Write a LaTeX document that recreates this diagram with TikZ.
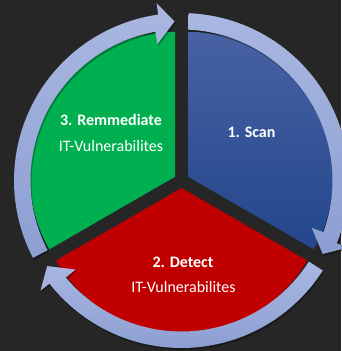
\documentclass[tikz,border=0pt]{standalone}
\usepackage{fontspec}
\setmainfont{Carlito}
\definecolor{bg}{HTML}{262626}
\definecolor{ringtop}{HTML}{A9B7E1}
\definecolor{ringbot}{HTML}{8C9ED2}
\definecolor{bluetop}{HTML}{4862A3}
\definecolor{bluebot}{HTML}{23468B}
\definecolor{sgreen}{HTML}{00B050}
\definecolor{sred}{HTML}{C00000}
\begin{document}
\begin{tikzpicture}[x=1pt,y=1pt,
  lbl/.style={text=white,font=\fontsize{16}{19}\selectfont,anchor=base,inner sep=0pt},
  blbl/.style={lbl,font=\fontsize{16}{19}\selectfont\bfseries}]
\fill[bg] (0,0) rectangle (341,351);
\useasboundingbox (0,0) rectangle (341,351);
% sectors
\fill[sgreen] (175,174.25) -- ++(90:145) arc[start angle=90,end angle=210,radius=145] -- cycle;
\shade[top color=bluetop,bottom color=bluebot] (188,174.25) -- ++(-30:145) arc[start angle=-30,end angle=90,radius=145] -- cycle;
\fill[sred] (181.5,163) -- ++(210:145) arc[start angle=210,end angle=330,radius=145] -- cycle;
% circular arrows
\begin{scope}[shift={(181.5,170.5)}]
\foreach \t in {92.5,-27.5,-147.5}{
  \fill[black,opacity=0.3,shift={(1,-2)}] (\t+115:167.5) arc[start angle=\t+115,end angle=\t+5.5,radius=167.5]
    -- (\t+5.5:179) -- (\t:159.25) -- (\t+7.5:138.5) -- (\t+7.5:151)
    arc[start angle=\t+7.5,end angle=\t+115,radius=151] -- cycle;
  \shade[top color=ringtop,bottom color=ringbot] (\t+115:167.5) arc[start angle=\t+115,end angle=\t+5.5,radius=167.5]
    -- (\t+5.5:179) -- (\t:159.25) -- (\t+7.5:138.5) -- (\t+7.5:151)
    arc[start angle=\t+7.5,end angle=\t+115,radius=151] -- cycle;
}
\end{scope}
% labels
\node[blbl] (scan) at (251.5,213) {1. Scan};
\node[blbl] (rem) at (111,225) {3. Remmediate};
\node[lbl] (remsub) at (111,199) {IT-Vulnerabilites};
\node[blbl] (det) at (183,83) {2. Detect};
\node[lbl] (detsub) at (183.5,58) {IT-Vulnerabilites};
\end{tikzpicture}
\end{document}
